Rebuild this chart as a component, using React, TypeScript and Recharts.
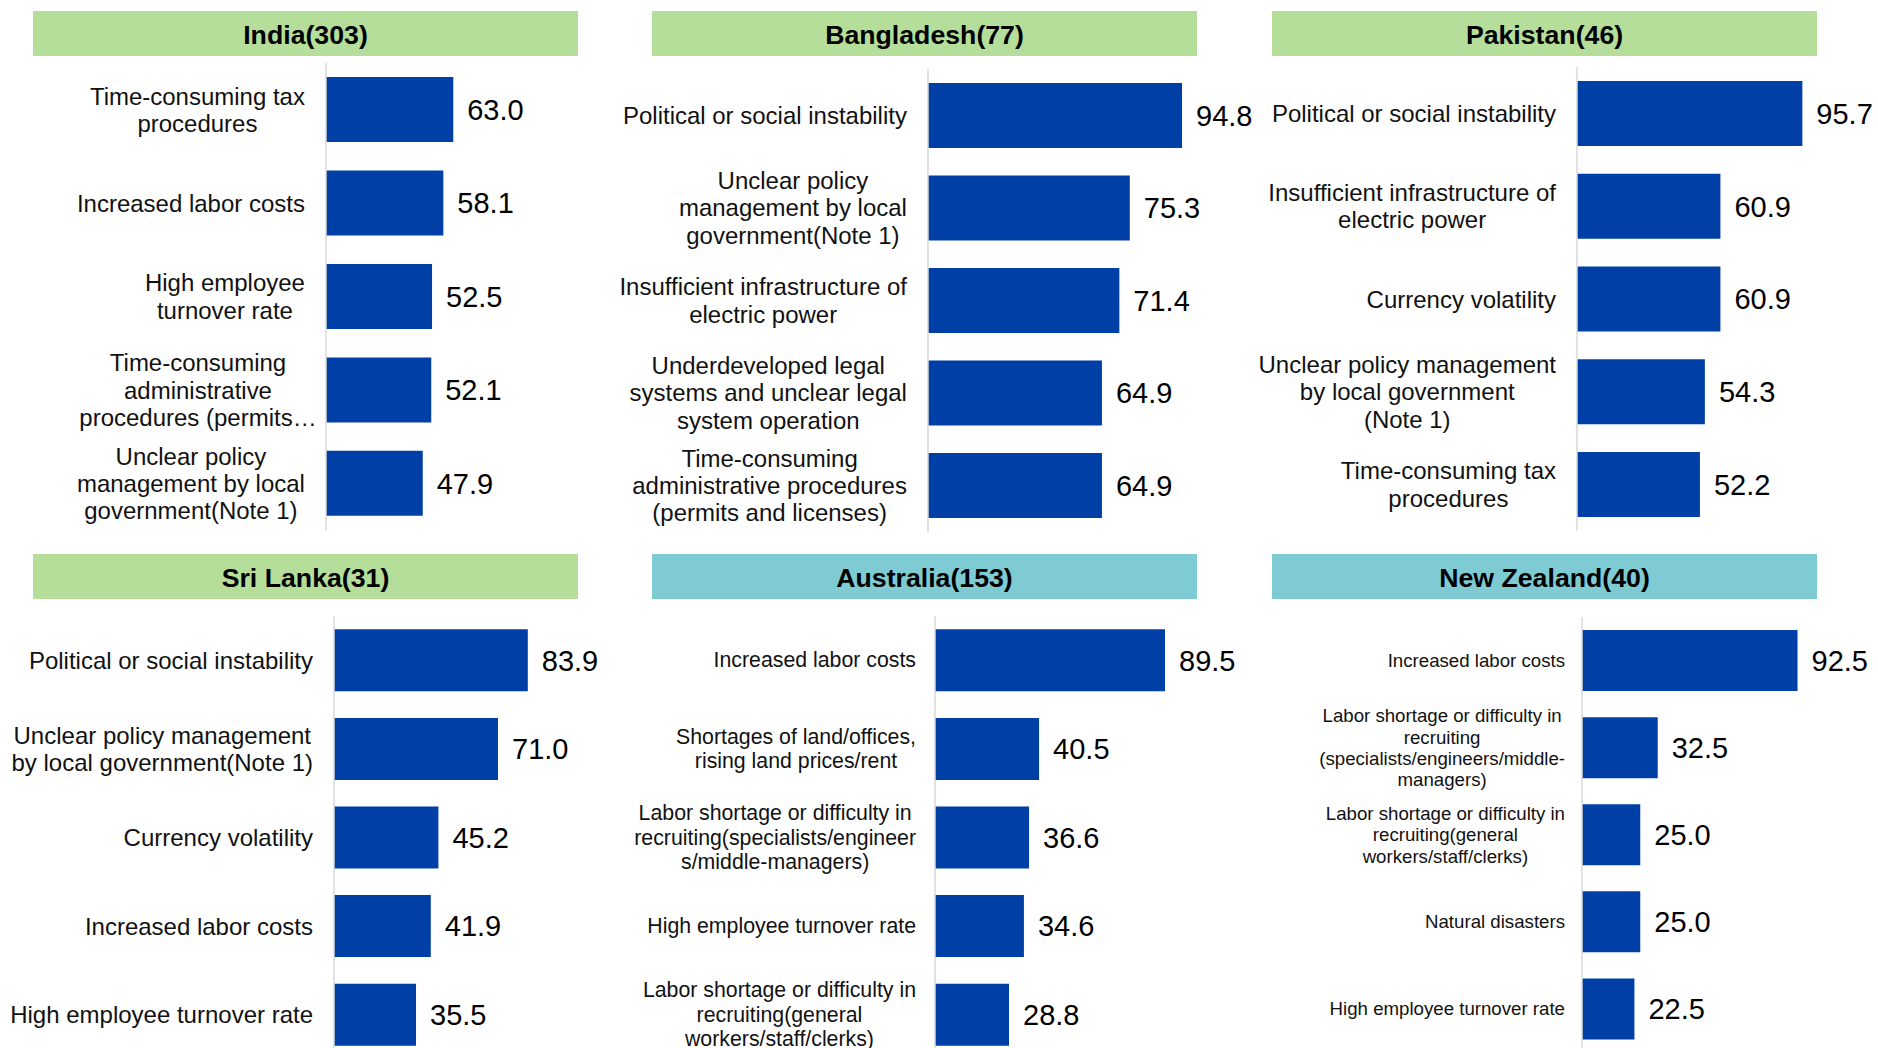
import { Bar, BarChart, LabelList, XAxis, YAxis } from "recharts";

const FONT = '"Liberation Sans", Arial, Helvetica, sans-serif';
const BAR_COLOR = "#003FA5";
const GREEN = "#B4DE99";
const TEAL = "#7ECBD3";

const indiaLabels = [
  "Time-consuming tax\nprocedures",
  "Increased labor costs",
  "High employee\nturnover rate",
  "Time-consuming\nadministrative\nprocedures (permits…",
  "Unclear policy\nmanagement by local\ngovernment(Note 1)",
];
const indiaValues = [63.0, 58.1, 52.5, 52.1, 47.9];

const bangladeshLabels = [
  "Political or social instability",
  "Unclear policy\nmanagement by local\ngovernment(Note 1)",
  "Insufficient infrastructure of\nelectric power",
  "Underdeveloped legal\nsystems and unclear legal\nsystem operation",
  "Time-consuming\nadministrative procedures\n(permits and licenses)",
];
const bangladeshValues = [94.8, 75.3, 71.4, 64.9, 64.9];

const pakistanLabels = [
  "Political or social instability",
  "Insufficient infrastructure of\nelectric power",
  "Currency volatility",
  "Unclear policy management\nby local government\n(Note 1)",
  "Time-consuming tax\nprocedures",
];
const pakistanValues = [95.7, 60.9, 60.9, 54.3, 52.2];

const sriLankaLabels = [
  "Political or social instability",
  "Unclear policy management\nby local government(Note 1)",
  "Currency volatility",
  "Increased labor costs",
  "High employee turnover rate",
];
const sriLankaValues = [83.9, 71.0, 45.2, 41.9, 35.5];

const australiaLabels = [
  "Increased labor costs",
  "Shortages of land/offices,\nrising land prices/rent",
  "Labor shortage or difficulty in\nrecruiting(specialists/engineer\ns/middle-managers)",
  "High employee turnover rate",
  "Labor shortage or difficulty in\nrecruiting(general\nworkers/staff/clerks)",
];
const australiaValues = [89.5, 40.5, 36.6, 34.6, 28.8];

const newZealandLabels = [
  "Increased labor costs",
  "Labor shortage or difficulty in\nrecruiting\n(specialists/engineers/middle-\nmanagers)",
  "Labor shortage or difficulty in\nrecruiting(general\nworkers/staff/clerks)",
  "Natural disasters",
  "High employee turnover rate",
];
const newZealandValues = [92.5, 32.5, 25.0, 25.0, 22.5];

const toRows = (labels: string[], values: number[]) =>
  labels.map((name, i) => ({ name, value: values[i] }));

// layout of the six panels (pixel positions only)
const panels = [
  { title: "India(303)", color: GREEN, rows: toRows(indiaLabels, indiaValues), fs: 24, gap: 21, wrapW: 214,
    hx: 33, hy: 11, left: 0, yW: 326, plotW: 202, top: 62.7, h: 467.3 },
  { title: "Bangladesh(77)", color: GREEN, rows: toRows(bangladeshLabels, bangladeshValues), fs: 24, gap: 21, wrapW: 400,
    hx: 652, hy: 11, left: 620, yW: 308, plotW: 268, top: 68.5, h: 462.8 },
  { title: "Pakistan(46)", color: GREEN, rows: toRows(pakistanLabels, pakistanValues), fs: 24, gap: 21, wrapW: 400,
    hx: 1272, hy: 11, left: 1240, yW: 337, plotW: 235.5, top: 67, h: 464 },
  { title: "Sri Lanka(31)", color: GREEN, rows: toRows(sriLankaLabels, sriLankaValues), fs: 24, gap: 21, wrapW: 400,
    hx: 33, hy: 554, left: 0, yW: 334, plotW: 231, top: 615.6, h: 443 },
  { title: "Australia(153)", color: TEAL, rows: toRows(australiaLabels, australiaValues), fs: 21.3, gap: 19, wrapW: 400,
    hx: 652, hy: 554, left: 620, yW: 315, plotW: 257, top: 615.6, h: 443 },
  { title: "New Zealand(40)", color: TEAL, rows: toRows(newZealandLabels, newZealandValues), fs: 18.67, gap: 17, wrapW: 400,
    hx: 1272, hy: 554, left: 1240, yW: 342, plotW: 233, top: 616.5, h: 435.5 },
];

let ctx: CanvasRenderingContext2D | null = null;
function textWidth(s: string, size: number) {
  if (!ctx) ctx = document.createElement("canvas").getContext("2d");
  if (!ctx) return s.length * size * 0.5;
  ctx.font = `${size}px ${FONT}`;
  return ctx.measureText(s).width;
}

// multi-line category label: block right-aligned to the axis, lines centred;
// a truncated label ("…") uses the wrap width as its block width
function CategoryTick(props: any) {
  const { x, y, payload, fs, wrapW } = props;
  const text = String(payload.value);
  const lines: string[] = text.split("\n");
  let maxW = Math.max(...lines.map((l) => textWidth(l, fs)));
  if (text.includes("…")) maxW = Math.min(maxW, wrapW);
  const cx = x - maxW / 2;
  const lh = fs * 1.14;
  return (
    <g>
      {lines.map((line, i) => (
        <text
          key={i}
          x={cx}
          y={y + (i - (lines.length - 1) / 2) * lh}
          textAnchor="middle"
          dominantBaseline="central"
          fontSize={fs}
          fontFamily={FONT}
          fill="#111"
        >
          {line}
        </text>
      ))}
    </g>
  );
}

function Panel({ p }: { p: (typeof panels)[number] }) {
  const right = 80;
  return (
    <>
      <div
        style={{
          position: "absolute",
          left: p.hx,
          top: p.hy,
          width: 545,
          height: 45,
          boxSizing: "border-box",
          paddingTop: 4,
          background: p.color,
          display: "flex",
          alignItems: "center",
          justifyContent: "center",
          fontWeight: 700,
          fontSize: 26.7,
          color: "#000",
        }}
      >
        {p.title}
      </div>
      <div style={{ position: "absolute", left: p.left, top: p.top }}>
        <BarChart
          width={p.yW + p.plotW + right}
          height={p.h}
          data={p.rows}
          layout="vertical"
          margin={{ top: 0, right, bottom: 0, left: 0 }}
          barCategoryGap="15%"
        >
          <XAxis type="number" domain={[0, 100]} hide />
          <YAxis
            type="category"
            dataKey="name"
            width={p.yW}
            interval={0}
            axisLine={{ stroke: "#d9d9d9", strokeWidth: 1.5 }}
            tickLine={false}
            tickSize={0}
            tickMargin={p.gap}
            tick={(t: any) => <CategoryTick {...t} fs={p.fs} wrapW={p.wrapW} />}
          />
          <Bar dataKey="value" fill={BAR_COLOR} isAnimationActive={false}>
            <LabelList
              dataKey="value"
              position="right"
              offset={14}
              formatter={(v: any) => Number(v).toFixed(1)}
              fontSize={29}
              fontFamily={FONT}
              fill="#000"
            />
          </Bar>
        </BarChart>
      </div>
    </>
  );
}

export default function App() {
  return (
    <div
      style={{
        position: "absolute",
        left: 0,
        top: 0,
        width: 1878,
        height: 1048,
        overflow: "hidden",
        background: "#fff",
        fontFamily: FONT,
      }}
    >
      <style>{`.recharts-surface{overflow:visible}`}</style>
      {panels.map((p) => (
        <Panel key={p.title} p={p} />
      ))}
    </div>
  );
}
